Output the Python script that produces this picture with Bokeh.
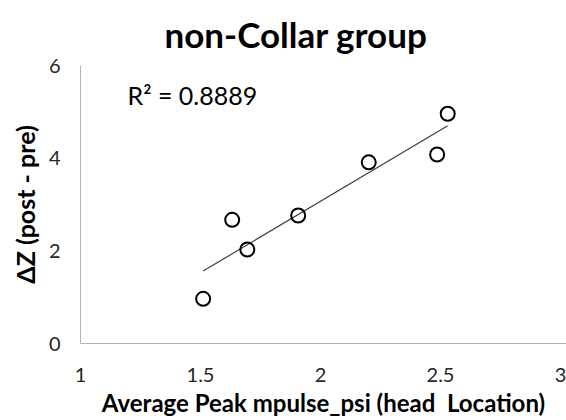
import numpy as np
from bokeh.plotting import figure
from bokeh.models import Range1d, Label, FixedTicker
from bokeh.embed import file_html
from bokeh.resources import INLINE

# data
impulse_psi = [1.511, 1.632, 1.695, 1.907, 2.201, 2.486, 2.530]
delta_z = [0.964, 2.669, 2.029, 2.763, 3.910, 4.079, 4.958]
x_ticks = [1, 1.5, 2, 2.5, 3]
y_ticks = [0, 2, 4, 6]
title_text = "non-Collar group"
r2_text = "R\u00b2 = 0.8889"

FONT = "Lato"

p = figure(width=566, height=420, output_backend="svg", toolbar_location=None,
           x_range=Range1d(1, 3.025), y_range=Range1d(0, 6),
           min_border_left=80, min_border_right=0, min_border_top=65,
           min_border_bottom=77, title=title_text)
p.title.text_font = FONT
p.title.text_font_size = "35px"
p.title.text_font_style = "bold"
p.title.align = "left"
p.title.vertical_align = "top"
p.title.offset = 84
p.title.standoff = 18
p.title.text_color = "#000000"
p.outline_line_color = None
p.grid.visible = False

for ax in (p.xaxis, p.yaxis):
    ax.axis_line_color = "#B4B4B4"
    ax.axis_line_width = 1
    ax.major_tick_line_color = None
    ax.minor_tick_line_color = None
    ax.major_label_text_font = FONT
    ax.major_label_text_font_size = "20px"
    ax.major_label_text_color = "#262626"
    ax.axis_label_text_font = FONT
    ax.axis_label_text_font_style = "bold"
    ax.axis_label_text_color = "#000000"

p.xaxis.axis_label_text_font_size = "24px"
p.yaxis.axis_label_text_font_size = "25px"
p.xaxis.ticker = FixedTicker(ticks=x_ticks)
p.yaxis.ticker = FixedTicker(ticks=y_ticks)
p.xaxis.major_label_standoff = 18
p.yaxis.major_label_standoff = 14
p.xaxis.axis_label = "Average Peak mpulse_psi (head\u00a0 Location)"
p.yaxis.axis_label = "\u0394Z (post - pre)"
p.xaxis.axis_label_standoff = 3
p.yaxis.axis_label_standoff = 6

# linear trendline from the data
slope, intercept = np.polyfit(impulse_psi, delta_z, 1)
xl = np.array([min(impulse_psi), max(impulse_psi)])
p.line(xl, slope * xl + intercept, line_color="#404040", line_width=1.2)

p.scatter(impulse_psi, delta_z, marker="circle", size=14, fill_color=None,
          line_color="#000000", line_width=2)

p.add_layout(Label(x=1.196, y=5.37, text=r2_text, text_font=FONT,
                   text_font_size="25px", text_baseline="middle",
                   text_color="#000000"))

open("out.html", "w").write(file_html(p, INLINE))
